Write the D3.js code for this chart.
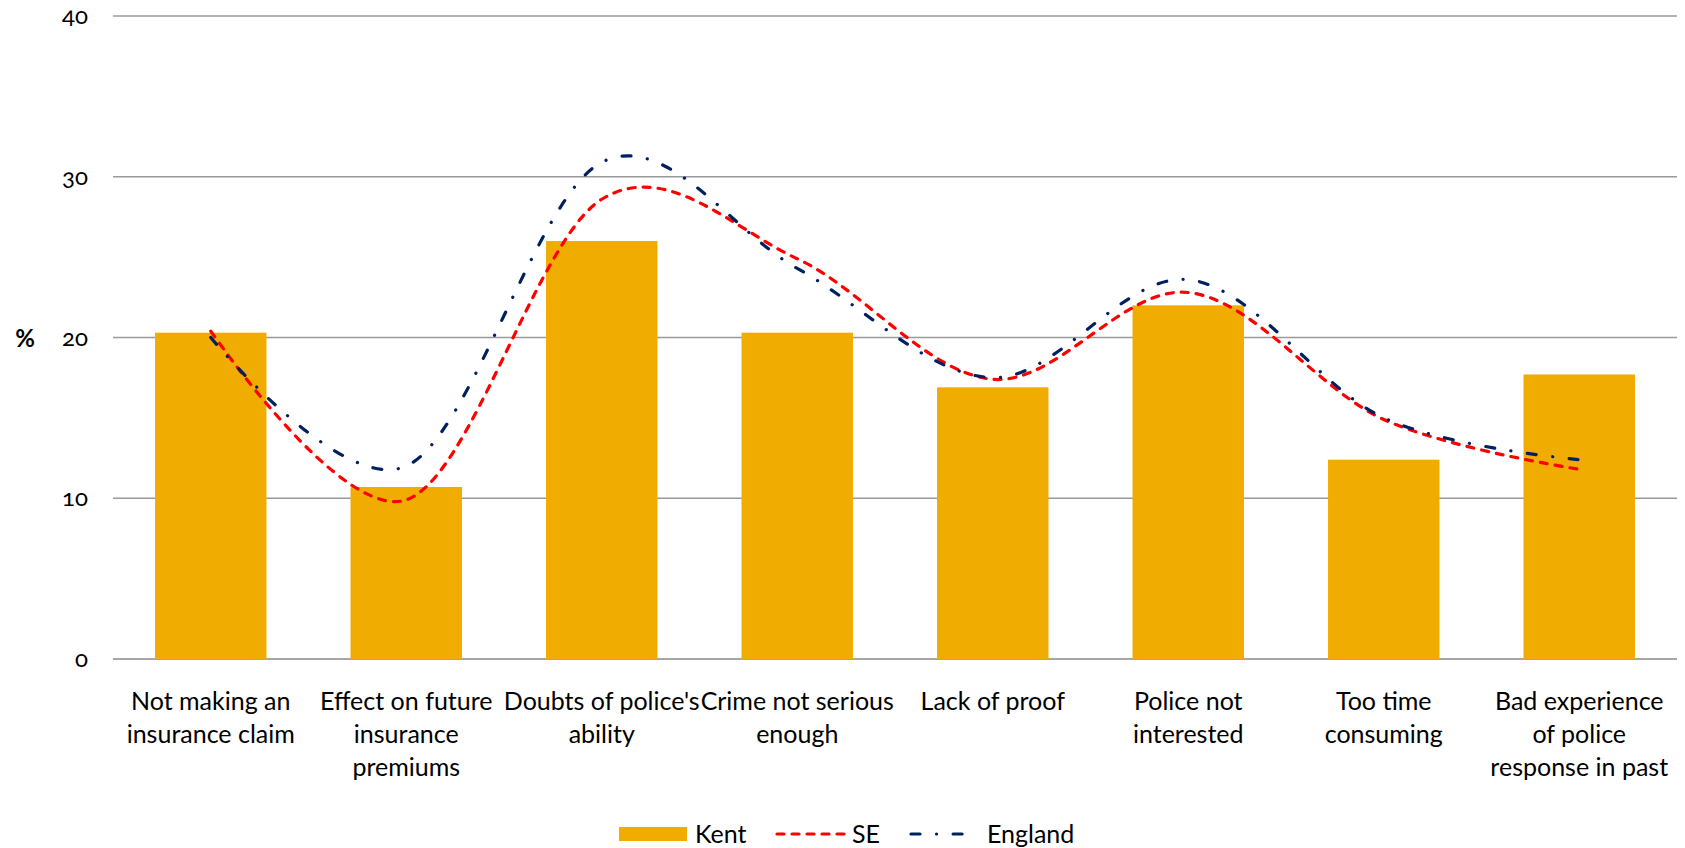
<!DOCTYPE html>
<html>
<head>
<meta charset="utf-8">
<script src="https://cdn.jsdelivr.net/npm/d3@7"></script>
<style>
  html, body { margin: 0; padding: 0; background: #fff; }
  svg { display: block; }
  text { font-family: Lato, "Noto Sans", sans-serif; fill: #000; }
</style>
</head>
<body>
<svg id="chart" width="1685" height="848"></svg>
<script>
const categories = [
  "Not making an insurance claim",
  "Effect on future insurance premiums",
  "Doubts of police's ability",
  "Crime not serious enough",
  "Lack of proof",
  "Police not interested",
  "Too time consuming",
  "Bad experience of police response in past"
];
const categoryLines = [
  ["Not making an", "insurance claim"],
  ["Effect on future", "insurance", "premiums"],
  ["Doubts of police's", "ability"],
  ["Crime not serious", "enough"],
  ["Lack of proof"],
  ["Police not", "interested"],
  ["Too time", "consuming"],
  ["Bad experience", "of police", "response in past"]
];
const kent = [20.3, 10.7, 26.0, 20.3, 16.9, 22.0, 12.4, 17.7];
const se = [20.4, 9.9, 28.6, 24.9, 17.4, 22.8, 14.9, 11.8];
const england = [20.0, 12.0, 30.9, 24.3, 17.5, 23.6, 15.0, 12.4];
const yTicks = [0, 10, 20, 30, 40];
const seriesNames = ["Kent", "SE", "England"];

const svg = d3.select("#chart");
const plotLeft = 113, plotRight = 1677, plotTop = 16, plotBottom = 659;

const x = d3.scaleBand().domain(categories).range([plotLeft, plotRight])
  .paddingInner(0.43).paddingOuter(0.215);
const y = d3.scaleLinear().domain([0, 40]).range([plotBottom, plotTop]);

// gridlines
svg.append("g").selectAll("line").data(yTicks).join("line")
  .attr("x1", plotLeft).attr("x2", plotRight)
  .attr("y1", d => y(d)).attr("y2", d => y(d))
  .attr("stroke", d => d === 0 ? "#a6a6a6" : "#9a9a9a")
  .attr("stroke-width", d => d === 0 ? 2 : 1.3);

// y axis labels
const yAxis = d3.axisLeft(y).tickValues(yTicks).tickSize(0).tickPadding(25).tickFormat(d3.format("d"));
const yg = svg.append("g").attr("transform", `translate(${plotLeft},0)`).call(yAxis);
yg.select(".domain").remove();
yg.selectAll("text")
  .attr("font-family", "'Noto Sans', Lato, sans-serif")
  .attr("font-size", 24)
  .style("font-variant-numeric", "oldstyle-nums")
  .attr("fill", "#000");

svg.append("text").attr("x", 25).attr("y", 339).attr("dy", "0.35em")
  .attr("text-anchor", "middle").attr("font-size", 24).attr("font-weight", "bold")
  .text("%");

// bars
svg.append("g").selectAll("rect").data(kent).join("rect")
  .attr("x", (d, i) => x(categories[i]))
  .attr("width", x.bandwidth())
  .attr("y", d => y(d))
  .attr("height", d => y(0) - y(d))
  .attr("fill", "#F0AC00");

// lines
const cx = i => x(categories[i]) + x.bandwidth() / 2;
const line = d3.line().x((d, i) => cx(i)).y(d => y(d)).curve(d3.curveCardinal.tension(0));

svg.append("path").datum(se).attr("d", line)
  .attr("fill", "none").attr("stroke", "#FF0000").attr("stroke-width", 3.2)
  .attr("stroke-linecap", "round").attr("stroke-dasharray", "7,8");
svg.append("path").datum(england).attr("d", line)
  .attr("fill", "none").attr("stroke", "#002060").attr("stroke-width", 3.2)
  .attr("stroke-linecap", "round").attr("stroke-dasharray", "9,16.5,0.1,16.5");

// x labels
const xl = svg.append("g");
categories.forEach((c, i) => {
  const t = xl.append("text").attr("x", cx(i)).attr("y", 701).attr("text-anchor", "middle")
    .attr("font-size", 25);
  categoryLines[i].forEach((ln, j) => {
    t.append("tspan").attr("x", cx(i)).attr("y", 701 + j * 33.3).attr("dy", "0.35em").text(ln);
  });
});

// legend
const lg = svg.append("g");
const ly = 834;
lg.append("rect").attr("x", 619).attr("y", ly - 7).attr("width", 68).attr("height", 14).attr("fill", "#F0AC00");
lg.append("text").attr("x", 695).attr("y", ly).attr("dy", "0.35em").attr("font-size", 25).text(seriesNames[0]);
lg.append("line").attr("x1", 777).attr("x2", 845).attr("y1", ly).attr("y2", ly)
  .attr("stroke", "#FF0000").attr("stroke-width", 3.2).attr("stroke-linecap", "round").attr("stroke-dasharray", "7,8");
lg.append("text").attr("x", 852).attr("y", ly).attr("dy", "0.35em").attr("font-size", 25).text(seriesNames[1]);
lg.append("line").attr("x1", 911).attr("x2", 966).attr("y1", ly).attr("y2", ly)
  .attr("stroke", "#002060").attr("stroke-width", 3.2).attr("stroke-linecap", "round").attr("stroke-dasharray", "9,16.5,0.1,16.5");
lg.append("text").attr("x", 987).attr("y", ly).attr("dy", "0.35em").attr("font-size", 25).text(seriesNames[2]);
</script>
</body>
</html>
